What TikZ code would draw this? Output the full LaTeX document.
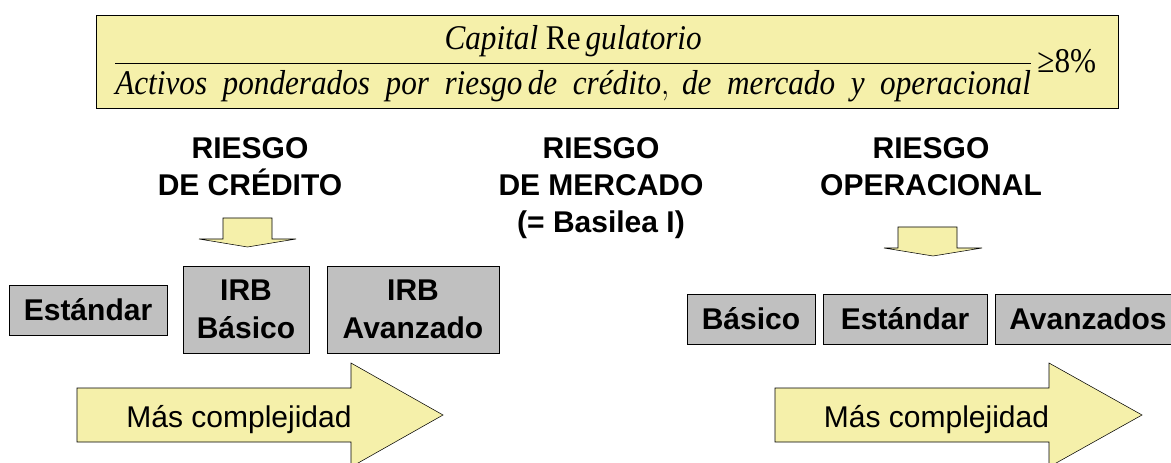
\documentclass[tikz,border=0pt]{standalone}
\usepackage{fontspec}
\setmainfont{Liberation Serif}
\setsansfont{Liberation Sans}
\usepackage{amsmath}
\usetikzlibrary{positioning}
\definecolor{panelcolor}{RGB}{245, 240, 170}
\definecolor{methodcolor}{RGB}{192, 192, 192}

\begin{document}
\begin{tikzpicture}[
    x=0.75pt, y=-0.75pt,
    panel/.style={draw, fill=panelcolor, minimum width=766.5pt, minimum height=69.75pt, inner sep=0pt},
    heading/.style={anchor=north, inner sep=0pt, align=center, font=\sffamily\bfseries\fontsize{22.5}{27.75}\selectfont},
    method/.style={draw, fill=methodcolor, inner sep=0pt, align=center, minimum height=37.5pt, font=\sffamily\bfseries\fontsize{22.5}{28.5}\selectfont},
    blockarrow/.style={draw, fill=panelcolor, line join=miter},
    note/.style={anchor=base, inner sep=0pt, font=\sffamily\fontsize{22.5}{27}\selectfont},
]
    \useasboundingbox (0,0) rectangle (1171,463);

    % Ratio
    \node[panel] (ratio) at (607,61.5) {};
    \node[font=\fontsize{26}{31}\selectfont, inner sep=0pt] (formula) at (605,64) {\scalebox{0.9}[1]{$\displaystyle\frac{\textit{Capital}\ \text{Re}\,\textit{gulatorio}}{\textit{Activos\ \ ponderados\ \ por\ \ riesgo\,de\ \ crédito},\ \textit{de\ \ mercado\ \ y\ \ operacional}}\,\text{≥8\%}$}};

    % Headings
    \node[heading] (credit) at (250,137) {RIESGO\\DE CRÉDITO};
    \node[heading] (market) at (601,137) {RIESGO\\DE MERCADO\\(= Basilea I)};
    \node[heading] (operational) at (931,137) {RIESGO\\OPERACIONAL};

    % Down arrows
    \draw[blockarrow] (223,218) -- (272,218) -- (272,239) -- (296,239) -- (247.5,247) -- (199,239) -- (223,239) -- cycle;
    \draw[blockarrow] (898,227) -- (957,227) -- (957,248) -- (982,248) -- (933,256) -- (884,248) -- (898,248) -- cycle;

    % Credit methods
    \node[method, minimum width=118.5pt] (standard) at (88,310) {Estándar};
    \node[method, minimum width=94.5pt, minimum height=65.25pt] (irbbasic) at (246,309.5) {IRB\\Básico};
    \node[method, minimum width=129pt, minimum height=65.25pt] (irbadvanced) at (413,309.5) {IRB\\Avanzado};

    % Operational methods
    \node[method, minimum width=96pt] (basic) at (751,319) {Básico};
    \node[method, minimum width=123pt] (opstandard) at (905,319) {Estándar};
    \node[method, minimum width=139.5pt] (advanced) at (1088,319) {Avanzados};

    % Complexity arrows
    \draw[blockarrow] (77,388) -- (351,388) -- (351,363) -- (443,415) -- (351,467) -- (351,442) -- (77,442) -- cycle;
    \node[note] (creditmore) at (239,427) {Más complejidad};
    \draw[blockarrow] (775,388) -- (1049,388) -- (1049,363) -- (1142,415) -- (1049,467) -- (1049,442) -- (775,442) -- cycle;
    \node[note] (opmore) at (936.5,427) {Más complejidad};
\end{tikzpicture}
\end{document}
